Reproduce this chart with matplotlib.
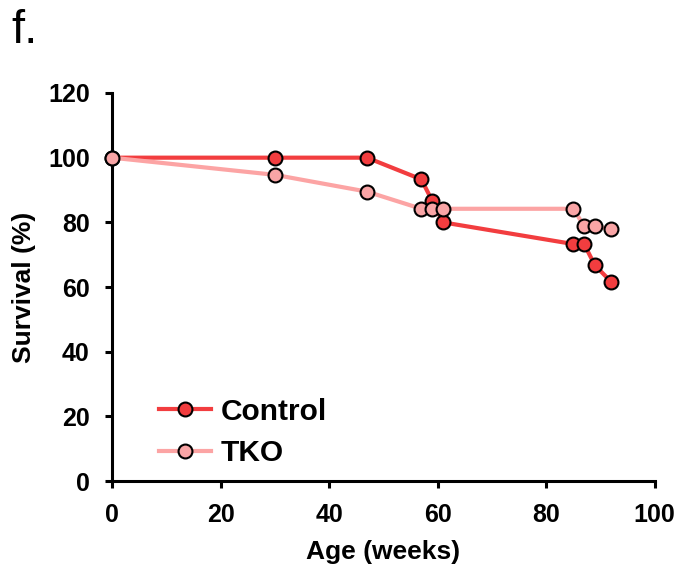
import matplotlib
matplotlib.use("Agg")
import matplotlib.pyplot as plt

plt.rcParams["font.family"] = ["Liberation Sans", "DejaVu Sans"]

# Kaplan-Meier style survival curves
control_age = [0, 30, 47, 57, 59, 61, 85, 87, 89, 92]
control_surv = [100, 100, 100, 93.3, 86.7, 80.0, 73.3, 73.3, 66.7, 61.6]

tko_age = [0, 30, 47, 57, 59, 61, 85, 87, 89, 92]
tko_surv = [100, 94.7, 89.5, 84.2, 84.2, 84.2, 84.2, 78.9, 78.9, 77.8]

x_ticks = [0, 20, 40, 60, 80, 100]
y_ticks = [0, 20, 40, 60, 80, 100, 120]

control_color = "#F23D3F"
tko_line = "#FCA4A4"
tko_face = "#F9A5A6"

fig = plt.figure(figsize=(6.8, 5.66), dpi=100)
ax = fig.add_axes([0.1647, 0.150, 0.798, 0.6857])

ax.plot(control_age, control_surv, color=control_color, lw=3, marker="o",
        ms=10, mfc=control_color, mec="black", mew=1.5, label="Control",
        clip_on=False, zorder=3)
ax.plot(tko_age, tko_surv, color=tko_line, lw=3, marker="o",
        ms=10, mfc=tko_face, mec="black", mew=1.5, label="TKO",
        clip_on=False, zorder=4)

ax.set_xlim(0, 100)
ax.set_ylim(0, 120)
ax.set_xticks(x_ticks)
ax.set_yticks(y_ticks)
for side in ["top", "right"]:
    ax.spines[side].set_visible(False)
for side in ["left", "bottom"]:
    ax.spines[side].set_linewidth(2.2)
ax.tick_params(direction="out", length=5, width=2.2, labelsize=18, pad=11)
for lbl in ax.get_xticklabels() + ax.get_yticklabels():
    lbl.set_fontweight("bold")

ax.set_xlabel("Age (weeks)", fontsize=19, fontweight="bold", labelpad=9)
ax.set_ylabel("Survival (%)", fontsize=19, fontweight="bold", labelpad=9)

ax.legend(loc="lower left", bbox_to_anchor=(0.065, 0.005), frameon=False,
          prop={"size": 21.5, "weight": "bold"}, handlelength=1.75,
          handletextpad=0.3, labelspacing=0.45, borderaxespad=0)

fig.text(0.016, 0.924, "f.", fontsize=34, va="baseline")

fig.savefig("out.png", dpi=100)
